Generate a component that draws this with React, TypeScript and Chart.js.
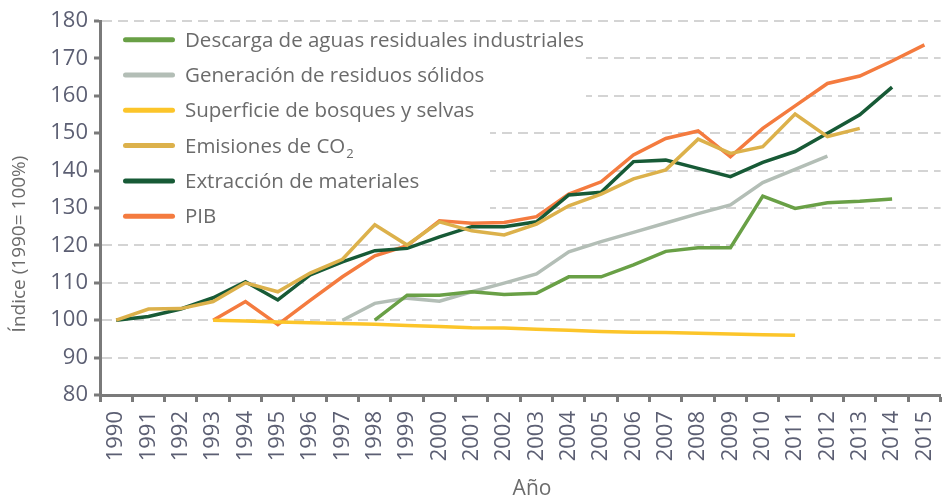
import React, { useEffect, useRef } from "react";
import { Chart, registerables } from "chart.js";

Chart.register(...registerables);

const years = [
  "1990", "1991", "1992", "1993", "1994", "1995", "1996", "1997", "1998", "1999",
  "2000", "2001", "2002", "2003", "2004", "2005", "2006", "2007", "2008", "2009",
  "2010", "2011", "2012", "2013", "2014", "2015",
];

const descarga = [
  null, null, null, null, null, null, null, null, 100, 106.7,
  106.7, 107.6, 106.9, 107.2, 111.6, 111.6, 114.8, 118.4, 119.4, 119.4,
  133.2, 129.9, 131.4, 131.8, 132.4, null,
];

const generacion = [
  null, null, null, null, null, null, null, 100, 104.5, 105.9,
  105.1, 107.6, 109.9, 112.4, 118.3, 121.0, 123.5, 126.0, 128.5, 130.8,
  136.8, 140.3, 143.9, null, null, null,
];

const superficie = [
  null, null, null, 100, 99.8, 99.5, 99.3, 99.1, 98.9, 98.6,
  98.3, 98.0, 97.9, 97.6, 97.3, 97.0, 96.8, 96.7, 96.5, 96.3,
  96.1, 96.0, null, null, null, null,
];

const emisionesCO2 = [
  100, 103, 103.1, 105, 110, 107.6, 112.6, 116.3, 125.5, 120.1,
  126.3, 123.9, 122.8, 125.7, 130.6, 133.7, 137.8, 140.2, 148.4, 144.6,
  146.4, 155.1, 149.1, 151.3, null, null,
];

const extraccion = [
  100, 101, 103, 106, 110.3, 105.4, 112.1, 115.6, 118.6, 119.2,
  122.3, 125, 125, 126.3, 133.5, 134.2, 142.4, 142.8, 140.6, 138.4,
  142.2, 145.1, 150, 154.9, 162.3, null,
];

const pib = [
  null, null, null, 100, 105, 98.8, 105.3, 111.6, 117.2, 119.9,
  126.6, 125.9, 126.1, 127.7, 133.7, 137, 144.2, 148.6, 150.6, 143.7,
  151.3, 157.3, 163.3, 165.3, 169.3, 173.6,
];

const seriesNames = [
  "Descarga de aguas residuales industriales",
  "Generación de residuos sólidos",
  "Superficie de bosques y selvas",
  "Emisiones de CO2",
  "Extracción de materiales",
  "PIB",
];

const seriesColors = ["#69a046", "#b3beb6", "#fcc52a", "#dcb14b", "#175a36", "#f47b3f"];

const seriesData = [descarga, generacion, superficie, emisionesCO2, extraccion, pib];

const yMin = 80;
const yMax = 180;
const yStep = 10;

const xTitle = "Año";
const yTitle = "Índice (1990= 100%)";

const FONT = '"Open Sans", sans-serif';
const TICK_COLOR = "#5c5f73";
const TEXT_COLOR = "#6b6b6b";
const AXIS_COLOR = "#7a7a7a";

const legendPlugin = {
  id: "customLegend",
  beforeDatasetsDraw(chart: any) {
    const ctx = chart.ctx;
    const left = chart.chartArea.left + 2;
    ctx.save();
    ctx.fillStyle = "#ffffff";
    ctx.fillRect(left, 28, 586 - left, 72);
    ctx.fillRect(left, 100, 490 - left, 125);
    ctx.restore();
  },
  afterDatasetsDraw(chart: any) {
    const ctx = chart.ctx;
    ctx.save();
    seriesNames.forEach((name, i) => {
      const base = 46.7 + i * 35.3;
      const cy = base - 7;
      ctx.strokeStyle = seriesColors[i];
      ctx.lineWidth = 5;
      ctx.lineCap = "round";
      ctx.beginPath();
      ctx.moveTo(125.5, cy);
      ctx.lineTo(172.5, cy);
      ctx.stroke();
      ctx.fillStyle = TEXT_COLOR;
      ctx.textAlign = "left";
      ctx.textBaseline = "alphabetic";
      ctx.font = `20.5px ${FONT}`;
      if (name.endsWith("CO2")) {
        const main = name.slice(0, -1);
        ctx.fillText(main, 185, base);
        const w = ctx.measureText(main).width;
        ctx.font = `13px ${FONT}`;
        ctx.fillText("2", 185 + w + 1, base + 5);
      } else {
        ctx.fillText(name, 185, base);
      }
    });
    ctx.restore();
  },
};

const titlePlugin = {
  id: "axisTitles",
  afterDraw(chart: any) {
    const ctx = chart.ctx;
    ctx.save();
    ctx.fillStyle = TEXT_COLOR;
    ctx.font = `21px ${FONT}`;
    ctx.textAlign = "center";
    ctx.textBaseline = "alphabetic";
    ctx.fillText(xTitle, 532, 495);
    ctx.translate(20, 244);
    ctx.rotate(-Math.PI / 2);
    ctx.font = `19px ${FONT}`;
    ctx.textBaseline = "middle";
    ctx.fillText(yTitle, 0, 0);
    ctx.restore();
  },
};

export default function App() {
  const canvasRef = useRef<HTMLCanvasElement>(null);

  useEffect(() => {
    const canvas = canvasRef.current;
    if (!canvas) return;
    const chart = new Chart(canvas, {
      type: "line",
      data: {
        labels: years,
        datasets: seriesNames.map((name, i) => ({
          label: name,
          data: seriesData[i],
          borderColor: seriesColors[i],
          backgroundColor: seriesColors[i],
          borderWidth: 3.5,
          pointRadius: 0,
          pointHoverRadius: 0,
          tension: 0,
          fill: false,
          spanGaps: false,
        })),
      },
      options: {
        responsive: false,
        animation: false,
        events: [],
        layout: { padding: { top: 21, right: 9, left: 0, bottom: 0 } },
        plugins: {
          legend: { display: false },
          tooltip: { enabled: false },
          title: { display: false },
        },
        scales: {
          x: {
            type: "category",
            offset: true,
            grid: {
              display: true,
              drawOnChartArea: false,
              drawTicks: true,
              offset: true,
              tickLength: 7,
              tickColor: AXIS_COLOR,
              tickWidth: 3,
              tickBorderDash: [],
            },
            border: { display: true, color: AXIS_COLOR, width: 3 },
            ticks: {
              autoSkip: false,
              minRotation: 90,
              maxRotation: 90,
              padding: 9,
              color: TICK_COLOR,
              font: { family: FONT, size: 22 },
            },
            afterFit(scale: any) {
              scale.height = 102;
            },
          },
          y: {
            min: yMin,
            max: yMax,
            ticks: {
              stepSize: yStep,
              padding: 6,
              color: TICK_COLOR,
              font: { family: FONT, size: 22 },
            },
            grid: {
              display: true,
              drawOnChartArea: true,
              drawTicks: true,
              color: "#d4d4d4",
              lineWidth: 2,
              tickLength: 6,
              tickColor: AXIS_COLOR,
              tickWidth: 3,
              tickBorderDash: [],
            },
            border: { display: true, color: AXIS_COLOR, width: 3, dash: [10, 6] },
            afterFit(scale: any) {
              scale.width = 100;
            },
          },
        },
      },
      plugins: [legendPlugin, titlePlugin],
    } as any);
    return () => chart.destroy();
  }, []);

  return (
    <div
      style={{
        position: "fixed",
        left: 0,
        top: 0,
        width: 944,
        height: 497,
        overflow: "hidden",
        background: "#ffffff",
      }}
    >
      <canvas
        ref={canvasRef}
        width={960}
        height={497}
        style={{ display: "block", width: 960, height: 497 }}
      />
    </div>
  );
}
